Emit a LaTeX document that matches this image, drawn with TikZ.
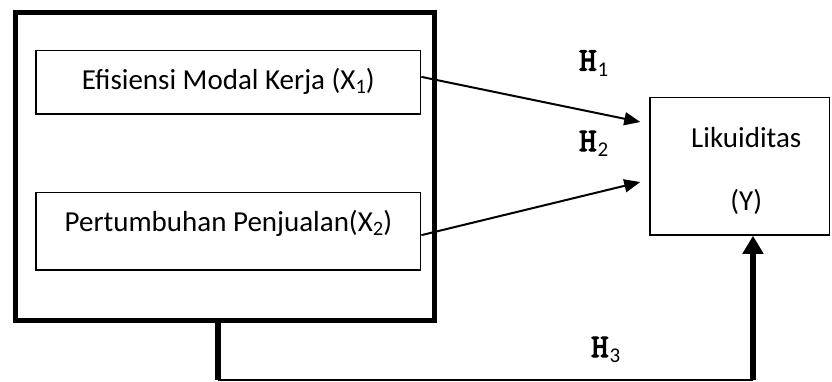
\documentclass[tikz,border=0pt]{standalone}
\usepackage{fontspec}
\setmainfont{Carlito}
\newfontfamily\hfont{lmmono10-regular}[Extension=.otf, FakeBold=3.5]
\usetikzlibrary{arrows.meta,calc}
\newcommand\lowsub[2]{\raisebox{-#2}{\fontsize{20.5}{20.5}\selectfont #1}}
\newcommand\hyplabel[1]{{\hfont\fontsize{33}{33}\selectfont H}\hspace{1pt}\raisebox{-5.5pt}{\fontsize{21}{21}\selectfont #1}}
\tikzset{
  outerbox/.style={draw, line width=5pt, inner sep=0pt},
  varbox/.style={draw, line width=1.3pt, inner sep=0pt, minimum width=384.7pt,
    font=\fontsize{29}{34}\selectfont, anchor=base},
  ybox/.style={draw, line width=1.5pt, inner sep=0pt, minimum width=179.5pt,
    minimum height=137.7pt, align=center, font=\fontsize{29}{63}\selectfont},
  hyp/.style={inner sep=0pt, anchor=base west},
  thinarrow/.style={line width=2pt, -{Triangle[length=16pt,width=13pt]}},
  thickline/.style={line width=6pt},
  thickarrow/.style={line width=6.5pt, -{Triangle[length=18pt,width=20pt]}},
  hline/.style={line width=1.3pt}
}
\begin{document}
\begin{tikzpicture}[x=1pt,y=-1pt]
\useasboundingbox (0,0) rectangle (832,381);
% outer frame
\node[outerbox, minimum width=419.5pt, minimum height=308pt] (outer) at (224.75,166.5) {};
% variable boxes
\node[varbox, text height=38.3pt, text depth=25pt] (b1) at (228.35,89)
  {Efisiensi Modal Kerja (X\lowsub{1}{4.3pt})};
\node[varbox, text height=38.7pt, text depth=39pt] (b2) at (228.35,231)
  {Pertumbuhan Penjualan(X\lowsub{2}{4.3pt})};
% dependent box
\node[ybox] (Y) at (739.75,166.15)
  {\hspace*{13pt}\rule{0pt}{29pt}Likuiditas\\\hspace*{13pt}(Y)};
% hypothesis labels
\node[hyp] (h1) at (579,70.5) {\hyplabel{1}};
\node[hyp] (h2) at (579,151) {\hyplabel{2}};
\node[hyp] (h3) at (591,357) {\hyplabel{3}};
% arrows H1, H2
\draw[thinarrow] ([yshift=5.5pt]b1.east) -- ([xshift=-9pt,yshift=44.15pt]Y.west);
\draw[thinarrow] ([yshift=-4pt]b2.east) -- ([xshift=-9pt,yshift=-15.85pt]Y.west);
% H3 path
\coordinate (c1) at (218,380);
\coordinate (c2) at (753,380);
\draw[thickline] (outer.south -| c1) -- (c1);
\draw[hline] (c1) -- (c2);
\draw[thickarrow] (c2) -- (c2 |- Y.south);
\end{tikzpicture}
\end{document}
